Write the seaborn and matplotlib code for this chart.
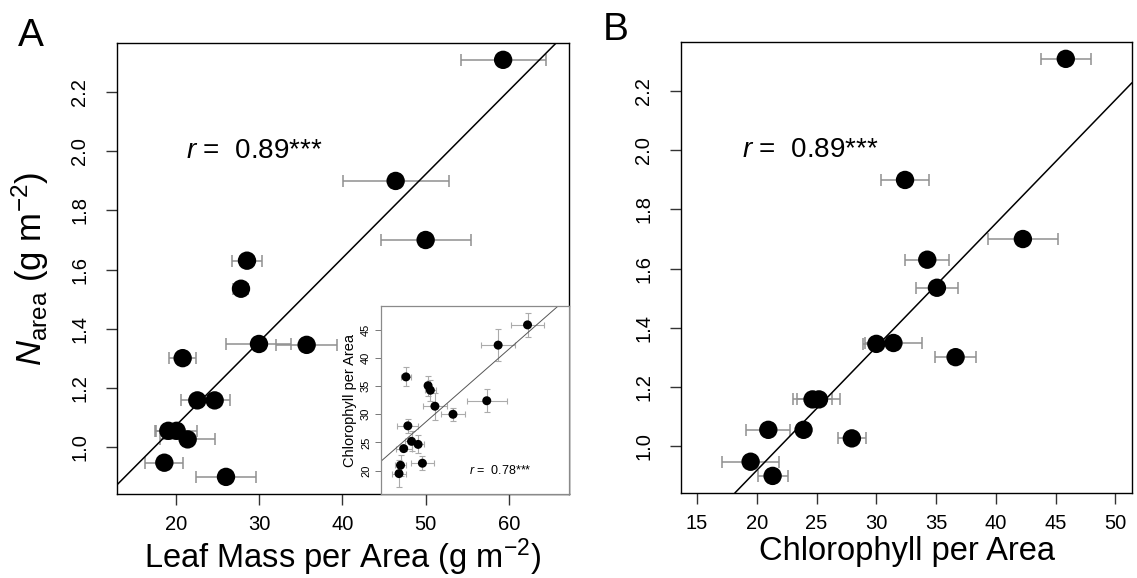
import numpy as np
import pandas as pd
import matplotlib
matplotlib.use("Agg")
import matplotlib.pyplot as plt
import seaborn as sns

# ---- data ----
lma = [59.3, 46.4, 50.0, 28.56, 27.84, 30.0, 35.72, 20.84, 22.6, 24.68, 19.12, 20.12, 21.44, 18.64, 26.04]
lma_se = [5.1, 6.35, 5.4, 1.76, 0.9, 3.9, 3.65, 1.58, 1.92, 1.84, 1.6, 2.48, 3.3, 2.3, 3.55]
chl = [45.85, 32.4, 42.26, 34.26, 35.07, 31.43, 30.0, 36.63, 25.2, 24.66, 20.96, 23.91, 27.95, 19.48, 21.32]
chl_se = [2.1, 2.03, 2.9, 1.85, 1.75, 2.37, 1.14, 1.7, 1.8, 1.6, 1.83, 0.5, 1.2, 2.4, 1.25]
narea = [2.31, 1.90, 1.70, 1.63, 1.535, 1.348, 1.345, 1.30, 1.157, 1.157, 1.054, 1.054, 1.025, 0.946, 0.898]

# fitted line of panel B (intercept, slope)
fitB_intercept = 0.081
fitB_slope = 0.0418

xticks_A = [20, 30, 40, 50, 60]
xticks_B = [15, 20, 25, 30, 35, 40, 45, 50]
yticks = [1.0, 1.2, 1.4, 1.6, 1.8, 2.0, 2.2]
yticks_inset = [20, 25, 30, 35, 40, 45]
r_main_A = "0.89***"
r_main_B = "0.89***"
r_inset = "0.78***"

df = pd.DataFrame({"lma": lma, "lma_se": lma_se, "chl": chl, "chl_se": chl_se, "narea": narea})

sns.set_theme(style="ticks")
plt.rcParams["font.family"] = ["Liberation Sans", "DejaVu Sans"]
plt.rcParams["mathtext.fontset"] = "custom"
plt.rcParams["mathtext.rm"] = "Liberation Sans"
plt.rcParams["mathtext.it"] = "Liberation Sans:italic"
plt.rcParams["mathtext.bf"] = "Liberation Sans:bold"
plt.rcParams["text.color"] = "black"
plt.rcParams["axes.labelcolor"] = "black"
plt.rcParams["xtick.labelcolor"] = "black"
plt.rcParams["ytick.labelcolor"] = "black"

fig = plt.figure(figsize=(11.37, 5.78), dpi=100)
axA = fig.add_axes([0.1029, 0.1453, 0.3975, 0.7803])
axB = fig.add_axes([0.599, 0.147, 0.3966, 0.7803])
axI = fig.add_axes([0.3348, 0.1453, 0.1656, 0.3253])

ylim = (0.84, 2.367)
err_col = "#8f8f8f"


def style_main(ax):
    for s in ax.spines.values():
        s.set_color("black")
        s.set_linewidth(1.0)
        s.set_visible(True)
    ax.tick_params(axis="both", direction="out", length=8, width=1, color="#333333",
                   labelsize=14.5, labelcolor="black")
    ax.tick_params(axis="x", pad=7)
    ax.tick_params(axis="y", pad=12)
    ax.set_yticks(yticks)
    ax.set_yticklabels([f"{v:.1f}" for v in yticks], rotation=90, va="center")


# ---- Panel A ----
axA.set_xlim(12.96, 67.2)
axA.set_ylim(*ylim)
axA.errorbar(df["lma"], df["narea"], xerr=df["lma_se"], fmt="none", ecolor=err_col,
             elinewidth=1.1, capsize=4, capthick=1.1, zorder=1)
sns.regplot(data=df, x="lma", y="narea", ax=axA, scatter=False, ci=None, truncate=False,
            line_kws=dict(color="black", lw=1.1, zorder=2))
sns.scatterplot(data=df, x="lma", y="narea", ax=axA, s=175, color="black",
                edgecolor="none", linewidth=0, zorder=3, legend=False)
axA.set_xlim(12.96, 67.2)
axA.set_ylim(*ylim)
style_main(axA)
axA.set_xticks(xticks_A)
axA.set_xlabel("Leaf Mass per Area (g m$^{-2}$)", fontsize=23.5, labelpad=2)
axA.set_ylabel("$\\mathit{N}_{\\mathrm{area}}$ (g m$^{-2}$)", fontsize=25)
axA.yaxis.set_label_coords(-0.146, 0.5)
axA.text(29.4, 2.0, "$\\mathit{r}$ =  " + r_main_A, fontsize=20, ha="center", va="center")

# ---- Inset ----
axI.set_xlim(12.84, 72.4)
axI.set_ylim(15.86, 49.2)
axI.set_facecolor("white")
axI.errorbar(df["lma"], df["chl"], xerr=df["lma_se"], yerr=df["chl_se"], fmt="none",
             ecolor="#ababab", elinewidth=0.8, capsize=2, capthick=0.8, zorder=1)
sns.regplot(data=df, x="lma", y="chl", ax=axI, scatter=False, ci=None, truncate=False,
            line_kws=dict(color="#555555", lw=0.7, zorder=2))
sns.scatterplot(data=df, x="lma", y="chl", ax=axI, s=42, color="black",
                edgecolor="none", linewidth=0, zorder=3, legend=False)
axI.set_xlim(12.84, 72.4)
axI.set_ylim(15.86, 49.2)
for s in axI.spines.values():
    s.set_color("#8a8a8a")
    s.set_linewidth(0.9)
axI.set_xticks([])
axI.set_xlabel("")
axI.set_yticks(yticks_inset)
axI.set_yticklabels([str(v) for v in yticks_inset], rotation=90, va="center")
axI.tick_params(axis="y", direction="out", length=4, width=0.7, color="#777777",
                labelsize=8, pad=3)
axI.set_ylabel("Chlorophyll per Area", fontsize=10.5, labelpad=3)
axI.text(50.7, 20.1, "$\\mathit{r}$ =  " + r_inset, fontsize=9, ha="center", va="center")

# ---- Panel B ----
axB.set_xlim(13.66, 51.39)
axB.set_ylim(*ylim)
axB.errorbar(df["chl"], df["narea"], xerr=df["chl_se"], fmt="none", ecolor=err_col,
             elinewidth=1.1, capsize=4, capthick=1.1, zorder=1)
axB.axline((0, fitB_intercept), slope=fitB_slope, color="black", lw=1.1, zorder=2)
sns.scatterplot(data=df, x="chl", y="narea", ax=axB, s=175, color="black",
                edgecolor="none", linewidth=0, zorder=3, legend=False)
axB.set_xlim(13.66, 51.39)
axB.set_ylim(*ylim)
style_main(axB)
axB.set_xticks(xticks_B)
axB.set_xlabel("Chlorophyll per Area", fontsize=23.5, labelpad=2)
axB.set_ylabel("")
axB.text(24.5, 2.0, "$\\mathit{r}$ =  " + r_main_B, fontsize=20, ha="center", va="center")

# panel letters
fig.text(0.016, 0.968, "A", fontsize=28, ha="left", va="top")
fig.text(0.530, 0.980, "B", fontsize=28, ha="left", va="top")

fig.savefig("out.png", dpi=100)
